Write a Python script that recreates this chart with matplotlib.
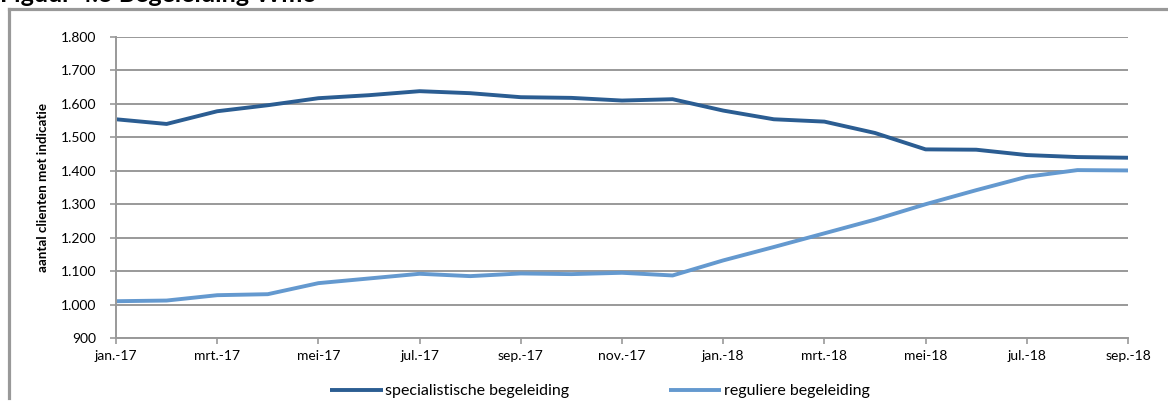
import matplotlib
matplotlib.use("Agg")
import matplotlib.pyplot as plt
from matplotlib.lines import Line2D

plt.rcParams['font.family'] = ['Lato', 'DejaVu Sans']

months = ["jan.-17", "feb.-17", "mrt.-17", "apr.-17", "mei-17", "jun.-17", "jul.-17",
          "aug.-17", "sep.-17", "okt.-17", "nov.-17", "dec.-17", "jan.-18", "feb.-18",
          "mrt.-18", "apr.-18", "mei-18", "jun.-18", "jul.-18", "aug.-18", "sep.-18"]
specialistisch = [1554, 1540, 1578, 1596, 1617, 1626, 1638, 1632, 1620, 1618, 1610,
                  1614, 1580, 1554, 1547, 1513, 1464, 1463, 1447, 1441, 1439]
regulier = [1010, 1012, 1028, 1031, 1064, 1078, 1092, 1085, 1093, 1091, 1095,
            1087, 1132, 1172, 1213, 1254, 1300, 1342, 1382, 1402, 1401]
y_ticks = [900, 1000, 1100, 1200, 1300, 1400, 1500, 1600, 1700, 1800]
y_ticklabels = ["900", "1.000", "1.100", "1.200", "1.300", "1.400", "1.500", "1.600", "1.700", "1.800"]
series_names = ["specialistische begeleiding", "reguliere begeleiding"]
title = "Figuur 4.3 Begeleiding Wmo"
ylabel = "aantal clienten met indicatie"

W, H = 1168, 407
fig = plt.figure(figsize=(W / 100, H / 100), dpi=100)
ax = fig.add_axes([116 / W, 1 - 338 / H, (1128 - 116) / W, (338 - 37) / H])

x = list(range(len(months)))
ax.plot(x, specialistisch, color="#2B5D92", lw=2.8, label=series_names[0], solid_capstyle="butt")
ax.plot(x, regulier, color="#6499CF", lw=2.8, label=series_names[1], solid_capstyle="butt")

ax.set_xlim(0, len(months) - 1)
ax.set_ylim(900, 1800)
ax.set_yticks(y_ticks)
ax.set_yticklabels(y_ticklabels, fontsize=10)
ax.set_xticks(x[::2])
ax.set_xticklabels(months[::2], fontsize=10)
ax.grid(axis="y", color="#999999", lw=1.4)
ax.set_axisbelow(True)
for s in ["top", "right"]:
    ax.spines[s].set_visible(False)
for s in ["left", "bottom"]:
    ax.spines[s].set_color("#999999")
    ax.spines[s].set_linewidth(1.4)
ax.tick_params(axis="both", length=4, width=1.2, color="#999999", direction="out", pad=5)
ax.tick_params(axis="y", pad=10)
ax.set_ylabel(ylabel, fontsize=9.6, fontweight="bold", labelpad=9)

leg = fig.legend(loc="center", bbox_to_anchor=(600 / W, 1 - 391 / H), ncol=2, frameon=False,
                 fontsize=11.5, handlelength=3.3, handletextpad=0.15, columnspacing=6.2)

# surrounding frame (top and left)
fig.add_artist(Line2D([9 / W, 1.0], [1 - 8.5 / H, 1 - 8.5 / H], color="#999999", lw=2.3, transform=fig.transFigure))
fig.add_artist(Line2D([9 / W, 9 / W], [1 - 8.5 / H, 1 - 398 / H], color="#999999", lw=2.3, transform=fig.transFigure))

fig.text(0 / W, 1 - 1.5 / H, title, fontsize=18, fontweight="bold", ha="left", va="baseline")

fig.savefig("out.png", dpi=100)
